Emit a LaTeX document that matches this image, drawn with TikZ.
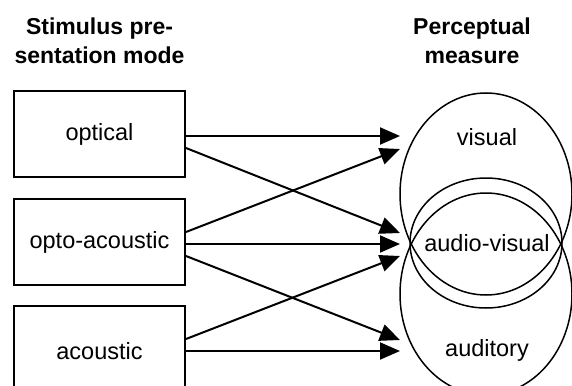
\documentclass[tikz,border=0pt]{standalone}
\usepackage{fontspec}
\setmainfont{Liberation Sans}
\usetikzlibrary{arrows.meta}
\begin{document}
\begin{tikzpicture}[x=1pt,y=-1pt,
  modebox/.style={draw,line width=2pt,minimum width=171pt,minimum height=86pt,inner sep=0pt,font=\fontsize{23.5}{27}\selectfont},
  lbl/.style={font=\fontsize{23.5}{27}\selectfont},
  heading/.style={align=center,font=\fontsize{23}{29}\selectfont\bfseries},
  link/.style={line width=2pt,-{Triangle[length=20pt,width=17pt]}},
  ring/.style={line width=1.5pt}]
\useasboundingbox (0,0) rectangle (572,385);
\begin{scope}
\clip (0,0) rectangle (572,385);
% headings
\node[heading] (h1) at (99.5,41) {Stimulus pre-\\sentation mode};
\node[heading] (h2) at (472,41) {Perceptual\\measure};
% boxes
\node[modebox] (opt) at (99.5,134) {optical};
\node[modebox] (opac) at (99.5,242) {opto-acoustic};
\node[modebox] (acou) at (99.5,349) {};
\node[lbl] (acoutxt) at (99.5,351) {acoustic};
% ellipses
\draw[ring] (486,194) ellipse [x radius=86, y radius=101];
\draw[ring] (486,294) ellipse [x radius=86, y radius=101];
\draw[ring] (486,243) ellipse [x radius=76, y radius=65];
\node[lbl] (vis) at (487,137) {visual};
\node[lbl] (av) at (487,243) {audio-visual};
\node[lbl] (aud) at (487,350) {auditory};
% arrow start / end points
\coordinate (s1a) at ([yshift=-2pt]opt.east);
\coordinate (s1b) at ([yshift=-14pt]opt.east);
\coordinate (s2a) at ([yshift=10pt]opac.east);
\coordinate (s2b) at ([yshift=-2pt]opac.east);
\coordinate (s2c) at ([yshift=-14pt]opac.east);
\coordinate (s3a) at ([yshift=10pt]acou.east);
\coordinate (s3b) at ([yshift=-2pt]acou.east);
\coordinate (tva) at (400,136);
\coordinate (tvb) at (400,149);
\coordinate (taa) at (400,233);
\coordinate (tab) at (400,244);
\coordinate (tac) at (400,256);
\coordinate (tua) at (400,340);
\coordinate (tub) at (400,351);
\draw[link] (s1a) -- (tva);
\draw[link] (s1b) -- (taa);
\draw[link] (s2a) -- (tvb);
\draw[link] (s2b) -- (tab);
\draw[link] (s2c) -- (tua);
\draw[link] (s3a) -- (tac);
\draw[link] (s3b) -- (tub);
\end{scope}
\end{tikzpicture}
\end{document}
